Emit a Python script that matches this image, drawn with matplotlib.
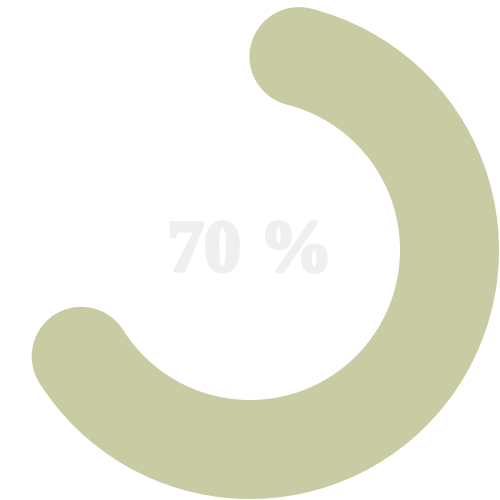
import numpy as np
import matplotlib.pyplot as plt
import matplotlib.patheffects as pe
from matplotlib.patches import Wedge, Circle

value = 70
max_value = 100
label = "70 %"
arc_color = "#c9cca3"
text_color = "#efefef"

outer_r = 249
thickness = 99
mid_r = outer_r - thickness / 2

fig = plt.figure(figsize=(5, 5), dpi=100)
ax = fig.add_axes([0, 0, 1, 1])
ax.set_xlim(-250, 250)
ax.set_ylim(-250, 250)
ax.set_aspect("equal")
ax.axis("off")

# sweep measured clockwise from the top, round caps kept inside the sweep
sweep = 360 * value / max_value
cap = np.degrees((thickness / 2) / mid_r)
start_cw = cap
end_cw = sweep - cap
theta1 = 90 - end_cw
theta2 = 90 - start_cw

ax.add_patch(Wedge((0, 0), outer_r, theta1, theta2, width=thickness,
                   facecolor=arc_color, edgecolor="none"))
for a in (theta1, theta2):
    t = np.radians(a)
    ax.add_patch(Circle((mid_r * np.cos(t), mid_r * np.sin(t)), thickness / 2,
                        facecolor=arc_color, edgecolor="none"))

# heavy display serif: thicken Liberation Serif bold a little
ax.text(0, -21, label, ha="center", va="baseline", fontsize=53,
        fontweight="bold", family="Liberation Serif", color=text_color,
        path_effects=[pe.withStroke(linewidth=2.5, foreground=text_color)])

fig.savefig("out.png", dpi=100)
